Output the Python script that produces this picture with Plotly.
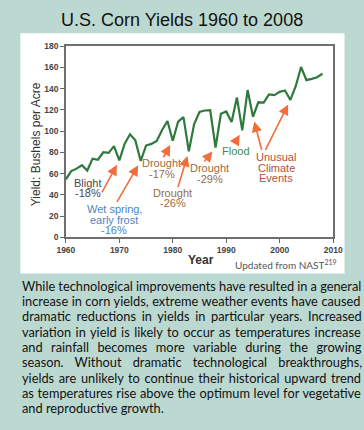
import glob
import os
import struct
import subprocess

import plotly.graph_objects as go

W, H = 364, 430

years = list(range(1960, 2009))
yields = [54.7, 62.4, 64.7, 67.9, 62.9, 74.1, 73.1, 80.1, 79.5, 85.9,
          72.4, 88.1, 97.0, 91.3, 71.9, 86.4, 88.0, 90.8, 101.0, 109.5,
          91.0, 108.9, 113.2, 81.1, 106.7, 118.0, 119.4, 119.8, 84.6, 116.3,
          118.5, 108.6, 131.5, 100.7, 138.6, 113.5, 127.1, 126.7, 134.4, 133.8,
          136.9, 138.2, 129.3, 142.2, 160.3, 147.9, 149.1, 150.7, 153.9]

y_ticks = [0, 20, 40, 60, 80, 100, 120, 140, 160, 180]
x_ticks = [1960, 1970, 1980, 1990, 2000, 2010]

# event labels: (lines, colour, centre px x, first line px y)
event_labels = [
    (["Blight", "-18%"], "#4a4a4a", 83, 182),
    (["Wet spring,", "early frost", "-16%"], "#4d84c4", 111, 209),
    (["Drought", "-17%"], "#9c6b3c", 161, 162),
    (["Drought", "-26%"], "#9c6b3c", 173, 192),
    (["Drought", "-29%"], "#9c6b3c", 212, 167),
    (["Flood"], "#3d8c4c", 239, 149),
    (["Unusual", "Climate", "Events"], "#b2523c", 282, 156),
]
# arrows: (tail year, tail value, target event year)
arrow_specs = [
    (1966.6, 41, 1970),
    (1969.4, 32, 1974),
    (1978.1, 74, 1980),
    (1980.9, 46, 1983),
    (1985.7, 70, 1988),
    (1991.4, 87, 1993),
    (1996.7, 81, 1995),
    (1997.2, 81, 2002),
]

body_lines = [
    "While technological improvements have resulted in a general",
    "increase in corn yields, extreme weather events have caused",
    "dramatic reductions in yields in particular years. Increased",
    "variation in yield is likely to occur as temperatures increase",
    "and rainfall becomes more variable during the growing",
    "season. Without dramatic technological breakthroughs,",
    "yields are unlikely to continue their historical upward trend",
    "as temperatures rise above the optimum level for vegetative",
    "and reproductive growth.",
]

BODY_FONT = "Lato"
BODY_SIZE = 12.8
BODY_LEFT, BODY_RIGHT = 12, 353


# ---- minimal TrueType advance-width reader (for justified body text) ----
def find_font(name):
    try:
        out = subprocess.run(["fc-match", "-f", "%{file}", name + ":style=Regular"],
                             capture_output=True, text=True, timeout=5).stdout.strip()
        if out and os.path.exists(out) and out.lower().endswith((".ttf", ".otf")):
            return out
    except Exception:
        pass
    for root in ["/usr/share/fonts", "/usr/local/share/fonts", os.path.expanduser("~/.fonts")]:
        hits = glob.glob(os.path.join(root, "**", name + "-Regular.ttf"), recursive=True)
        if hits:
            return hits[0]
    return None


def load_widths(path):
    data = open(path, "rb").read()
    num = struct.unpack(">H", data[4:6])[0]
    tables = {}
    for i in range(num):
        tag, _, off, ln = struct.unpack(">4sIII", data[12 + 16 * i: 28 + 16 * i])
        tables[tag.decode("latin-1")] = off
    upem = struct.unpack(">H", data[tables["head"] + 18: tables["head"] + 20])[0]
    nhm = struct.unpack(">H", data[tables["hhea"] + 34: tables["hhea"] + 36])[0]
    hm = tables["hmtx"]
    adv = [struct.unpack(">H", data[hm + 4 * i: hm + 4 * i + 2])[0] for i in range(nhm)]
    cm = tables["cmap"]
    nsub = struct.unpack(">H", data[cm + 2: cm + 4])[0]
    sub = None
    for i in range(nsub):
        pid, eid, off = struct.unpack(">HHI", data[cm + 4 + 8 * i: cm + 12 + 8 * i])
        fmt = struct.unpack(">H", data[cm + off: cm + off + 2])[0]
        if fmt == 4 and (pid == 3 or pid == 0):
            sub = cm + off
            break
    seg2 = struct.unpack(">H", data[sub + 6: sub + 8])[0]
    segs = seg2 // 2
    ends = struct.unpack(">%dH" % segs, data[sub + 14: sub + 14 + seg2])
    starts = struct.unpack(">%dH" % segs, data[sub + 16 + seg2: sub + 16 + 2 * seg2])
    deltas = struct.unpack(">%dh" % segs, data[sub + 16 + 2 * seg2: sub + 16 + 3 * seg2])
    ro_pos = sub + 16 + 3 * seg2
    ros = struct.unpack(">%dH" % segs, data[ro_pos: ro_pos + seg2])

    def glyph(c):
        for i in range(segs):
            if ends[i] >= c:
                if starts[i] > c:
                    return 0
                if ros[i] == 0:
                    return (c + deltas[i]) & 0xFFFF
                addr = ro_pos + 2 * i + ros[i] + 2 * (c - starts[i])
                g = struct.unpack(">H", data[addr: addr + 2])[0]
                return (g + deltas[i]) & 0xFFFF if g else 0
        return 0

    def width(text, size):
        tot = 0
        for ch in text:
            g = glyph(ord(ch))
            tot += adv[min(g, nhm - 1)]
        return tot * size / upem

    return width


try:
    text_width = load_widths(find_font(BODY_FONT))
except Exception:
    text_width = None


def justified(line, last):
    if last or text_width is None:
        return line
    spaces = line.count(" ")
    extra = (BODY_RIGHT - BODY_LEFT) - text_width(line, BODY_SIZE)
    if spaces == 0:
        return line
    return '<span style="word-spacing:%.2fpx">%s</span>' % (extra / spaces, line)


def px(x):
    return x / W


def py(y):
    return 1 - y / H


def label(text, x, y, size, color, family="Liberation Sans, Arial", xanchor="center", **kw):
    d = dict(text=text, x=px(x), y=py(y), xref="paper", yref="paper",
             showarrow=False, xanchor=xanchor, yanchor="middle",
             font=dict(family=family, size=size, color=color))
    d.update(kw)
    return d


fig = go.Figure()
fig.add_trace(go.Scatter(x=years, y=yields, mode="lines",
                         line=dict(color="#2e7a3c", width=2.2),
                         hoverinfo="skip", showlegend=False))

ann = []
ann.append(label("U.S. Corn Yields 1960 to 2008", 182, 15, 18, "#111111"))
ann.append(label("Yield: Bushels per Acre", 28, 143, 12, "#333333", textangle=-90))
ann.append(label("<b>Year</b>", 203, 261, 12, "#333333"))
ann.append(label("Updated from NAST<sup>219</sup>", 348, 266, 10, "#555555",
                 family="Lato", xanchor="right"))

for lines, col, cx, y0 in event_labels:
    for i, t in enumerate(lines):
        ann.append(label(t, cx, y0 + i * 10.8, 11, col))

# arrows pointing at the event-year data points
for tx, ty, yr in arrow_specs:
    val = yields[years.index(yr)]
    ann.append(dict(text="", x=yr, y=val, ax=tx, ay=ty,
                    xref="x", yref="y", axref="x", ayref="y",
                    showarrow=True, arrowhead=2, arrowsize=1.3, arrowwidth=1.6,
                    arrowcolor="#f26d3d", standoff=5))

for i, t in enumerate(body_lines):
    ann.append(label(justified(t, i == len(body_lines) - 1), BODY_LEFT, 287.5 + i * 15.7,
                     BODY_SIZE, "#111111", family=BODY_FONT, xanchor="left"))

fig.update_layout(
    width=W, height=H,
    margin=dict(l=0, r=0, t=0, b=0),
    paper_bgcolor="#bcd9d1",
    plot_bgcolor="#ede4c4",
    showlegend=False,
    annotations=ann,
    shapes=[dict(type="rect", xref="paper", yref="paper",
                 x0=px(12), x1=px(354), y0=py(275), y1=py(29),
                 fillcolor="white", line=dict(width=0), layer="below")],
    xaxis=dict(domain=[px(60), px(342)], range=[1960, 2010],
               tickvals=x_ticks, ticks="outside", ticklen=4, tickcolor="#666",
               showgrid=False, zeroline=False, showline=True, mirror=True,
               linecolor="#6f6f6f", linewidth=1.5,
               tickfont=dict(family="Liberation Sans, Arial", size=8.5, color="#444", weight="bold")),
    yaxis=dict(domain=[py(238), py(42)], range=[0, 180],
               tickvals=y_ticks, ticks="outside", ticklen=4, tickcolor="#666",
               showgrid=False, zeroline=False, showline=True, mirror=True,
               linecolor="#6f6f6f", linewidth=1.5,
               tickfont=dict(family="Liberation Sans, Arial", size=8.5, color="#444", weight="bold")),
)

fig.write_html("out.html", config={"displayModeBar": False},
               post_script="document.body.style.margin='0';document.body.style.padding='0';"
                           "document.documentElement.style.overflow='hidden';")
